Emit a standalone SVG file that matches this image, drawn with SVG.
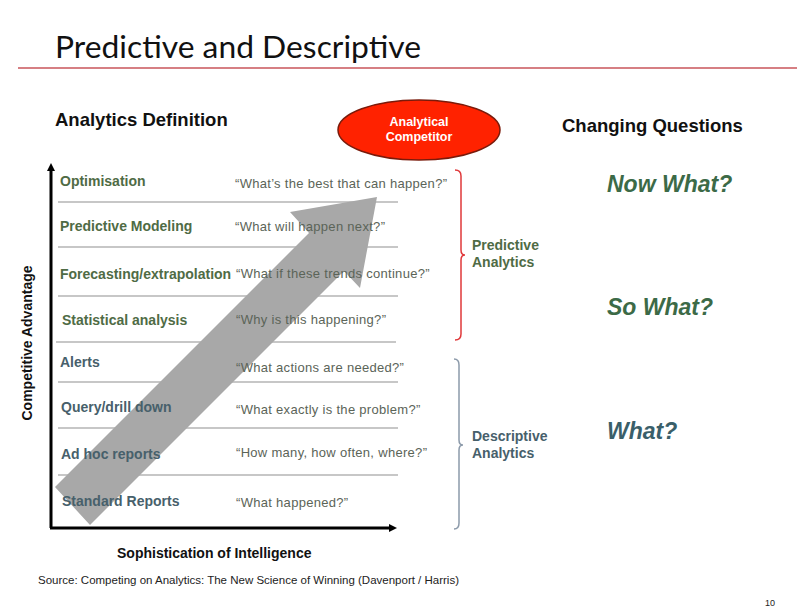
<svg xmlns="http://www.w3.org/2000/svg" width="797" height="612" viewBox="0 0 797 612">
  <defs>
    <style>
      .title { font-family: Lato, "Open Sans", sans-serif; font-size: 30px; fill: #111; }
      .head { font-family: "Liberation Sans", Arial, sans-serif; font-weight: bold; font-size: 18.5px; fill: #111; }
      .lab { font-family: "Liberation Sans", Arial, sans-serif; font-weight: bold; font-size: 14px; }
      .pred { fill: #4f6b45; }
      .desc { fill: #47606b; }
      .q { font-family: "Liberation Sans", Arial, sans-serif; font-size: 13px; letter-spacing: 0.3px; fill: #5b6458; }
      .big { font-family: "Liberation Sans", Arial, sans-serif; font-weight: bold; font-style: italic; font-size: 23px; }
      .axis { font-family: "Liberation Sans", Arial, sans-serif; font-weight: bold; font-size: 14px; fill: #111; }
      .row { stroke: #b4b4b4; stroke-width: 1.5; }
    </style>
    <marker id="axhead" markerWidth="8" markerHeight="8" refX="1" refY="4" orient="auto" markerUnits="userSpaceOnUse">
      <path d="M0,0 L8,4 L0,8 z" fill="#000"/>
    </marker>
  </defs>

  <rect width="797" height="612" fill="#fff"/>

  <!-- slide title -->
  <g id="title">
    <text class="title" x="55" y="58" textLength="366" lengthAdjust="spacingAndGlyphs">Predictive and Descriptive</text>
    <line x1="18" y1="68" x2="797" y2="68" stroke="#c9555a" stroke-width="1.5"/>
  </g>

  <g id="headings">
    <text class="head" x="55" y="126">Analytics  Definition</text>
    <text class="head" x="562" y="132">Changing Questions</text>
  </g>

  <!-- row separators -->
  <g id="rows">
    <line class="row" x1="58" y1="202" x2="398" y2="202"/>
    <line class="row" x1="58" y1="247" x2="398" y2="247"/>
    <line class="row" x1="58" y1="296" x2="398" y2="296"/>
    <line class="row" x1="56" y1="342" x2="396" y2="342" stroke="#9a9a9a" stroke-width="2"/>
    <line class="row" x1="58" y1="382" x2="398" y2="382"/>
    <line class="row" x1="58" y1="428" x2="398" y2="428"/>
    <line class="row" x1="58" y1="475" x2="398" y2="475"/>
  </g>

  <!-- big grey progression arrow -->
  <g id="progress-arrow">
    <polygon points="55,487 309,233 290,212 377,197 360,288 344,271 90,525" fill="#a8a8a8"/>
  </g>

  <!-- axes -->
  <g id="connectors">
    <line x1="51" y1="528" x2="51" y2="170" stroke="#000" stroke-width="3" marker-end="url(#axhead)"/>
    <line x1="50" y1="528" x2="390" y2="528" stroke="#000" stroke-width="3" marker-end="url(#axhead)"/>
  </g>

  <!-- analytics levels -->
  <g id="levels">
    <text class="lab pred" x="60" y="186">Optimisation</text>
    <text class="lab pred" x="60" y="231">Predictive Modeling</text>
    <text class="lab pred" x="60" y="279">Forecasting/extrapolation</text>
    <text class="lab pred" x="62" y="325">Statistical analysis</text>
    <text class="lab desc" x="60" y="367">Alerts</text>
    <text class="lab desc" x="61" y="412">Query/drill down</text>
    <text class="lab desc" x="61" y="459">Ad hoc reports</text>
    <text class="lab desc" x="62" y="506">Standard Reports</text>
  </g>

  <g id="questions">
    <text class="q" x="235" y="188">“What’s the best that can happen?”</text>
    <text class="q" x="235" y="231">“What will happen  next?”</text>
    <text class="q" x="236" y="278">“What if these trends continue?”</text>
    <text class="q" x="236" y="324">“Why is this happening?”</text>
    <text class="q" x="236" y="372">“What actions are needed?”</text>
    <text class="q" x="236" y="414">“What exactly is the problem?”</text>
    <text class="q" x="236" y="457">“How many,  how often, where?”</text>
    <text class="q" x="236" y="507">“What happened?”</text>
  </g>

  <!-- top goal -->
  <g id="analytical-competitor">
    <ellipse cx="419" cy="130" rx="81" ry="30" fill="#ff2200" stroke="#7a1a0a" stroke-width="1.5"/>
    <text x="419" y="126" text-anchor="middle" font-family="'Liberation Sans', Arial, sans-serif" font-weight="bold" font-size="12.5" fill="#fff">Analytical</text>
    <text x="419" y="141" text-anchor="middle" font-family="'Liberation Sans', Arial, sans-serif" font-weight="bold" font-size="12.5" fill="#fff">Competitor</text>
  </g>

  <!-- groupings -->
  <g id="predictive-group">
    <path d="M455,170 Q461,170 461,176 L461,250 Q461,255 465,255 Q461,255 461,260 L461,334 Q461,340 455,340" fill="none" stroke="#e0383a" stroke-width="1.5"/>
    <text class="lab pred" x="472" y="250">Predictive</text>
    <text class="lab pred" x="472" y="267">Analytics</text>
  </g>
  <g id="descriptive-group">
    <path d="M454,359 Q459,359 459,365 L459,440 Q459,445 463,445 Q459,445 459,450 L459,523 Q459,529 454,529" fill="none" stroke="#8c9aaa" stroke-width="1.5"/>
    <text class="lab desc" x="472" y="441">Descriptive</text>
    <text class="lab desc" x="472" y="458">Analytics</text>
  </g>

  <!-- changing questions -->
  <g id="now-what"><text class="big" x="607" y="192" fill="#3c6a47">Now What?</text></g>
  <g id="so-what"><text class="big" x="607" y="315" fill="#3c6a47">So What?</text></g>
  <g id="what"><text class="big" x="607" y="439" fill="#3a5f6a">What?</text></g>

  <!-- axis labels -->
  <text class="axis" transform="translate(32,343) rotate(-90)" text-anchor="middle" font-size="14.5">Competitive Advantage</text>
  <text class="axis" x="117" y="558">Sophistication of Intelligence</text>

  <text x="38" y="584" font-family="'Liberation Sans', Arial, sans-serif" font-size="11.5" fill="#222">Source: Competing on Analytics: The New Science of Winning (Davenport / Harris)</text>
  <text x="765" y="606" font-family="'Liberation Sans', Arial, sans-serif" font-size="9" fill="#222">10</text>
</svg>
